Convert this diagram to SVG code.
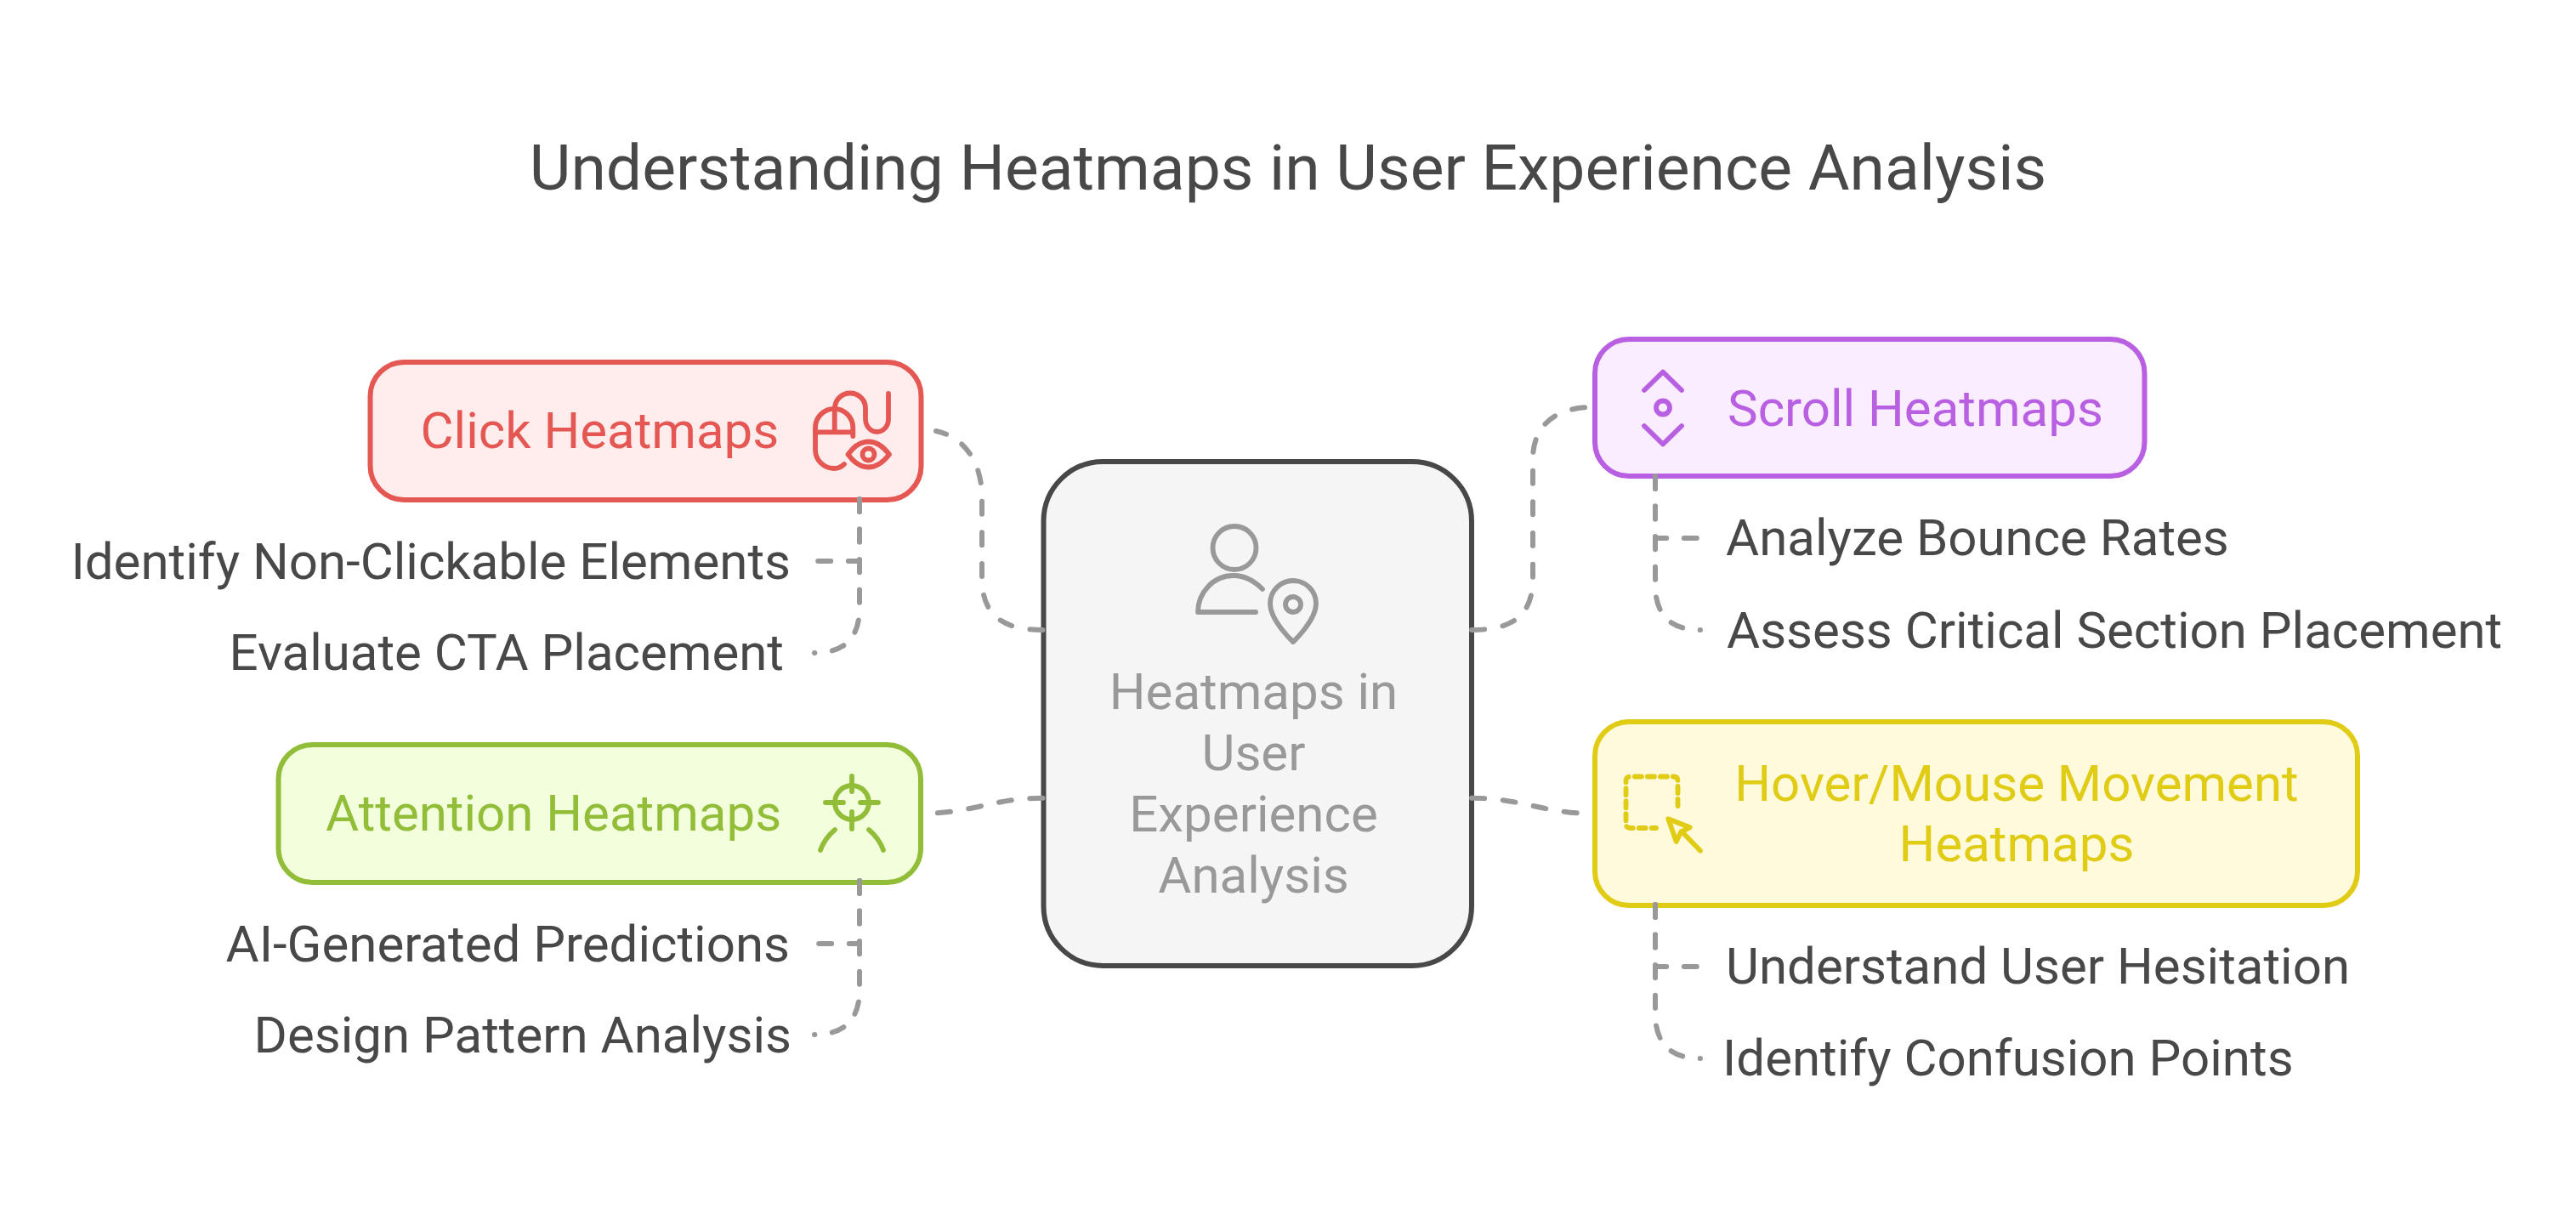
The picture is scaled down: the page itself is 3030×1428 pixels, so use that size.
<svg xmlns="http://www.w3.org/2000/svg" width="3030" height="1428" viewBox="0 0 3030 1428">
<style>
text{font-family:"Roboto","Liberation Sans",sans-serif;font-size:60px;fill:#484848}
.t{font-size:75px}
.m{text-anchor:middle}
.e{text-anchor:end}
.c,.d{fill:none;stroke:#999999;stroke-width:6;stroke-linecap:round;stroke-linejoin:round}
.c{stroke-dasharray:15 21.7}
.d{stroke-dasharray:15 20.6}
.i{fill:none;stroke-width:5.8;stroke-linecap:round;stroke-linejoin:round}
.b{stroke-width:6}
.red{fill:#ffeded;stroke:#e55753}.redt{fill:#e55753}.redi{stroke:#e55753}
.pur{fill:#f9edff;stroke:#b960e2}.purt{fill:#b960e2}.puri{stroke:#b960e2}
.yel{fill:#fffadb;stroke:#e0cb15}.yelt{fill:#e0cb15}.yeli{stroke:#e0cb15}
.grn{fill:#f3ffdc;stroke:#92bd39}.grnt{fill:#92bd39}.grni{stroke:#92bd39}
.gra{fill:#f5f5f5;stroke:#484848}.grat{fill:#999999}.grai{stroke:#999999}
</style>
<rect width="3030" height="1428" fill="#ffffff"/>
<text id="title" class="t m" x="1515" y="223">Understanding Heatmaps in User Experience Analysis</text>
<g id="center">
<rect class="b gra" x="1227.5" y="543" width="503.5" height="593" rx="70" ry="70"/>
<g class="i grai">
<circle cx="1452" cy="644.5" r="25.5"/>
<path d="M1485 693C1476 684 1464 677 1451 677C1427 677 1409 697 1409 720H1477"/>
<path d="M1521 755C1521 755 1494 730 1494 710A27 27 0 0 1 1548 710C1548 730 1521 755 1521 755Z"/>
<circle cx="1521" cy="711" r="9"/>
</g>
<text class="m grat" x="1474.5" y="833.5">Heatmaps in</text>
<text class="m grat" x="1474.5" y="905.5">User</text>
<text class="m grat" x="1474.5" y="978">Experience</text>
<text class="m grat" x="1474.5" y="1050">Analysis</text>
</g>
<g id="click">
<rect class="b red" x="435.5" y="426" width="648" height="162" rx="40" ry="40"/>
<text class="redt" x="494.5" y="527">Click Heatmaps</text>
<g class="i redi">
<path d="M1003.3 513V503A22 22 0 0 0 959 503V529A22 22 0 0 0 981 551C986 551 990 549 993 546"/>
<path d="M959 508.3H1003.3M981.7 481V508.3"/>
<path d="M982 481V480A18 17.5 0 0 1 1018 480V493A13.5 15 0 0 0 1045 493V463"/>
<path d="M997.5 534.5C1005 524 1012 519.5 1021.5 519.5C1031 519.5 1038 524 1046 534.5C1038 545 1031 549.5 1021.5 549.5C1012 549.5 1005 545 997.5 534.5Z"/>
<circle cx="1021.5" cy="534.5" r="7"/>
</g>
</g>
<g id="scroll">
<rect class="b pur" x="1876" y="399" width="646.5" height="161" rx="40" ry="40"/>
<text class="purt" x="2032" y="500.5">Scroll Heatmaps</text>
<g class="i puri">
<path d="M1934 459L1956 437.5L1978 459"/>
<circle cx="1956" cy="479.5" r="8"/>
<path d="M1934 501L1956 522.5L1978 501"/>
</g>
</g>
<g id="hover">
<rect class="b yel" x="1876" y="849" width="897" height="216" rx="40" ry="40"/>
<text class="m yelt" x="2372" y="941.5">Hover/Mouse Movement</text>
<text class="m yelt" x="2372" y="1013">Heatmaps</text>
<g class="i yeli">
<path stroke-dasharray="8 7" d="M1973.5 948V918.5Q1973.5 913.5 1968.5 913.5H1917.5Q1912.5 913.5 1912.5 918.5V969Q1912.5 974 1917.5 974H1948"/>
<path d="M1962.3 963.3L1987.7 973.3L1977.3 978.3L1971.7 990Z"/>
<path d="M1980 980L2000 1000.7"/>
</g>
</g>
<g id="attention">
<rect class="b grn" x="327.5" y="876" width="755.5" height="162" rx="40" ry="40"/>
<text class="grnt" x="383" y="977">Attention Heatmaps</text>
<g class="i grni">
<circle cx="1002" cy="944" r="20"/>
<path d="M1002 913V931M1002 955V975M971 944H992M1012 944H1033"/>
<path d="M982 976Q970 986 965 1000M1022 976Q1034 986 1039 1000"/>
</g>
</g>
<g id="items">
<text class="e" x="930" y="680.5">Identify Non-Clickable Elements</text>
<text class="e" x="922" y="788">Evaluate CTA Placement</text>
<text x="2030" y="653">Analyze Bounce Rates</text>
<text x="2031" y="761.5">Assess Critical Section Placement</text>
<text x="2030" y="1157">Understand User Hesitation</text>
<text x="2026" y="1265">Identify Confusion Points</text>
<text class="e" x="929" y="1130.5">AI-Generated Predictions</text>
<text class="e" x="931" y="1238">Design Pattern Analysis</text>
</g>
<g id="connectors">
<path class="c" d="M1226.5 741C1181 741 1155 725 1155 680V585C1155 545 1135 514 1101 507"/>
<path class="c" d="M1226.5 938.7C1168 938.7 1144 957 1082.5 957"/>
<path class="c" d="M1731 741C1778 741 1803 725 1803 680V540C1803 500 1830 479 1873 479"/>
<path class="c" d="M1731 938.7C1790 938.7 1815 957 1875.5 957"/>
<path class="d" d="M1011 587V660H962"/>
<path class="d" d="M1011 587V715Q1011 768 958 768"/>
<path class="d" d="M1947 560V633H2000"/>
<path class="d" d="M1947 560V688Q1947 741 2000 741"/>
<path class="d" d="M1947 1064V1137H2000"/>
<path class="d" d="M1947 1064V1192Q1947 1245 2000 1245"/>
<path class="d" d="M1011 1036V1110H958"/>
<path class="d" d="M1011 1036V1164Q1011 1217 958 1217"/>
</g>
</svg>
